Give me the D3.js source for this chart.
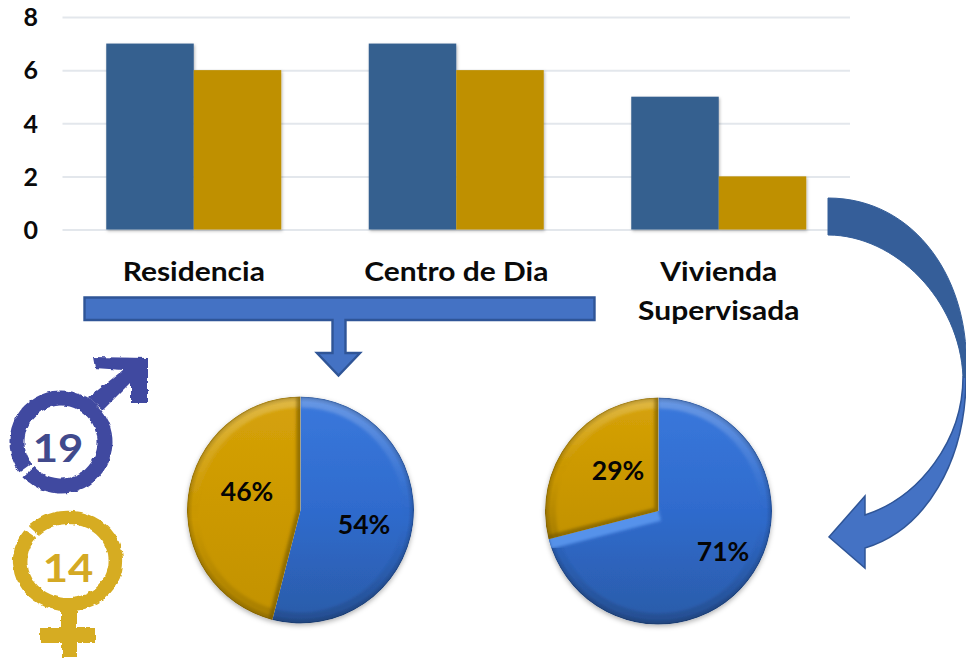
<!DOCTYPE html>
<html><head><meta charset="utf-8">
<script src="https://cdnjs.cloudflare.com/ajax/libs/d3/7.8.5/d3.min.js"></script>
<style>html,body{margin:0;padding:0;background:#fff;overflow:hidden}svg{display:block}text{font-family:Lato,"Open Sans",sans-serif;font-weight:700}</style>
</head><body><svg id="c" width="966" height="662"></svg>
<script>
const categories = [["Residencia"], ["Centro de Dia"], ["Vivienda", "Supervisada"]];
const seriesMen = [7, 7, 5];
const seriesWomen = [6, 6, 2];
const yTicks = [0, 2, 4, 6, 8];
const pieLeftValues = [54, 46];
const pieRightValues = [71, 29];
const maleCount = 19;
const femaleCount = 14;

const svg = d3.select("#c");
const defs = svg.append("defs");
const BLUE_BAR = "#35608f", GOLD_BAR = "#bf9000";
const STRETCH = 1.09;

/* ---------- filters ---------- */
const shadow = defs.append("filter").attr("id","barShadow").attr("x","-10%").attr("y","-10%").attr("width","120%").attr("height","120%");
shadow.append("feDropShadow").attr("dx",1).attr("dy",1.5).attr("stdDeviation",1.5).attr("flood-color","#000").attr("flood-opacity",.28);
const pieShadow = defs.append("filter").attr("id","pieShadow").attr("x","-10%").attr("y","-10%").attr("width","120%").attr("height","120%");
pieShadow.append("feDropShadow").attr("dx",0).attr("dy",2).attr("stdDeviation",2.5).attr("flood-color","#000").attr("flood-opacity",.3);
const soft = defs.append("filter").attr("id","soft").attr("x","-30%").attr("y","-30%").attr("width","160%").attr("height","160%");
soft.append("feGaussianBlur").attr("stdDeviation",1.6);
const rough = defs.append("filter").attr("id","rough").attr("x","-10%").attr("y","-10%").attr("width","120%").attr("height","120%");
rough.append("feTurbulence").attr("type","fractalNoise").attr("baseFrequency",.16).attr("numOctaves",2).attr("seed",4).attr("result","n");
rough.append("feDisplacementMap").attr("in","SourceGraphic").attr("in2","n").attr("scale",4).attr("xChannelSelector","R").attr("yChannelSelector","G").attr("result","d");
rough.append("feGaussianBlur").attr("in","d").attr("stdDeviation",.55);

/* ---------- bar chart ---------- */
const x0 = d3.scaleBand().domain(d3.range(categories.length)).range([62.5, 850]).paddingInner(1/3).paddingOuter(1/6);
const x1 = d3.scaleBand().domain([0,1]).range([0, x0.bandwidth()]);
const y = d3.scaleLinear().domain([0, 8]).range([229.5, 17]);

const yAxis = d3.axisLeft(y).tickValues(yTicks).tickSize(-(850-62.5)).tickPadding(0).tickFormat(d3.format("d"));
const gy = svg.append("g").attr("transform","translate(62.5,0)").call(yAxis);
gy.select(".domain").remove();
gy.selectAll(".tick line").attr("stroke","#e3e7ec").attr("stroke-width",2);
gy.selectAll(".tick text").attr("font-size",25).attr("fill","#0a0a0a").attr("dy",".35em")
  .attr("x",0).attr("transform","translate(-24.5,0)");

const groups = svg.append("g").selectAll("g").data(categories).join("g")
  .attr("transform",(d,i)=>`translate(${x0(i)},0)`).attr("filter","url(#barShadow)");
groups.each(function(d,i){
  const vals=[seriesMen[i],seriesWomen[i]];
  d3.select(this).selectAll("rect").data(vals).join("rect")
    .attr("x",(v,j)=>x1(j)).attr("width",x1.bandwidth())
    .attr("y",v=>y(v)).attr("height",v=>y(0)-y(v))
    .attr("fill",(v,j)=>j?GOLD_BAR:BLUE_BAR);
});
const lineGap = 39.5;
svg.append("g").selectAll("text").data(categories).join("text")
  .attr("text-anchor","middle").attr("font-size",27.5).attr("fill","#0a0a0a")
  .attr("transform",(d,i)=>`translate(${x0(i)+x0.bandwidth()/2},281) scale(${STRETCH},1)`)
  .selectAll("tspan").data(d=>d).join("tspan")
  .attr("x",0).attr("y",(d,i)=>i*lineGap).text(d=>d);

/* ---------- connector arrows ---------- */
const ARW="#4472c4", ARW_EDGE="#2f5597", ARW_DARK="#355e99";
function poly(pts){const p=d3.path();pts.forEach((q,i)=>i?p.lineTo(q[0],q[1]):p.moveTo(q[0],q[1]));p.closePath();return p.toString();}
svg.append("path").attr("d",poly([[84.5,297.5],[594.5,297.5],[594.5,320],[345.5,320],[345.5,353],[360,353],[338.5,375.5],[317,353],[332.5,353],[332.5,320],[84.5,320]]))
  .attr("fill",ARW).attr("stroke",ARW_EDGE).attr("stroke-width",2.4);

const lower=d3.path();
lower.moveTo(966,377);
lower.bezierCurveTo(966,462,925,530,865,548);
lower.lineTo(865,568); lower.lineTo(829,537); lower.lineTo(865,496); lower.lineTo(865,515);
lower.bezierCurveTo(920,497,963,440,963,377);
lower.closePath();
svg.append("path").attr("d",lower.toString()).attr("fill",ARW).attr("stroke",ARW_EDGE).attr("stroke-width",1.5);
const upper=d3.path();
upper.moveTo(828,198);
upper.bezierCurveTo(915,198,972,280,966,377);
upper.lineTo(963,377);
upper.bezierCurveTo(960,300,895,235,828,235);
upper.closePath();
svg.append("path").attr("d",upper.toString()).attr("fill",ARW_DARK).attr("stroke",ARW_DARK).attr("stroke-width",1);

/* ---------- pies ---------- */
const palette=[
  {top:"#3a78dc",mid:"#2f6bcd",bot:"#2b5ba8"},
  {top:"#d6a20a",mid:"#cc9900",bot:"#c29200"}];
palette.forEach((c,i)=>{
  const g=defs.append("linearGradient").attr("id","sl"+i).attr("x1",0).attr("y1",0).attr("x2",0).attr("y2",1);
  g.append("stop").attr("offset",0).attr("stop-color",c.top);
  g.append("stop").attr("offset",.5).attr("stop-color",c.mid);
  g.append("stop").attr("offset",1).attr("stop-color",c.bot);
});
const rimG=defs.append("linearGradient").attr("id","rimLight").attr("x1",0).attr("y1",0).attr("x2",0).attr("y2",1);
[[0,"#fff",.24],[.35,"#fff",.05],[.55,"#000",0],[1,"#000",.14]].forEach(s=>rimG.append("stop").attr("offset",s[0]).attr("stop-color",s[1]).attr("stop-opacity",s[2]));
const edgeG=defs.append("radialGradient").attr("id","rimDark").attr("cx",.5).attr("cy",.5).attr("r",.5);
[[0,0],[.95,0],[.985,.13],[1,.34]].forEach(s=>edgeG.append("stop").attr("offset",s[0]).attr("stop-color","#000").attr("stop-opacity",s[1]));

const pieGen=d3.pie().sort(null).startAngle(0).endAngle(2*Math.PI);
const R=113.5;
const arcGen=d3.arc().innerRadius(0).outerRadius(R);
const ringGen=d3.arc().innerRadius(R-11).outerRadius(R);

function drawPie(id,cx,cy,values,labels,lightEdge){
  const g=svg.append("g").attr("transform",`translate(${cx},${cy})`).attr("filter","url(#pieShadow)");
  pieGen(values).forEach((a,i)=>{
    const clipId=`${id}c${i}`;
    defs.append("clipPath").attr("id",clipId).append("path").attr("d",arcGen(a));
    const s=g.append("g").attr("clip-path",`url(#${clipId})`);
    s.append("path").attr("d",arcGen(a)).attr("fill",`url(#sl${i})`);
    s.append("path").attr("d",ringGen(a)).attr("fill","url(#rimLight)").attr("filter","url(#soft)");
    s.append("circle").attr("r",R).attr("fill","url(#rimDark)");
    const p0=d3.pointRadial(a.startAngle,R), p1=d3.pointRadial(a.endAngle,R);
    if(i===1){
      s.append("path").attr("d",d3.line()([p0,[0,0],p1])).attr("fill","none")
        .attr("stroke","#6d5200").attr("stroke-opacity",.6).attr("stroke-width",8).attr("filter","url(#soft)");
    } else {
      s.append("line").attr("x1",0).attr("y1",0).attr("x2",p0[0]).attr("y2",p0[1])
        .attr("stroke","#6fa6f5").attr("stroke-opacity",.35).attr("stroke-width",8).attr("filter","url(#soft)");
      if(lightEdge){
        s.append("line").attr("x1",0).attr("y1",0).attr("x2",p1[0]).attr("y2",p1[1])
          .attr("stroke","#5b97ee").attr("stroke-opacity",.9).attr("stroke-width",20).attr("filter","url(#soft)");
      }
    }
  });
  svg.append("g").selectAll("text").data(values).join("text")
    .attr("transform",(d,i)=>`translate(${labels[i][0]},${labels[i][1]+9.5})`)
    .attr("text-anchor","middle").attr("font-size",26.5).attr("fill","#050505")
    .text(d=>d+"%");
}
drawPie("pL",300.5,510,pieLeftValues,[[364,524],[247,491]],false);
drawPie("pR",658.5,511,pieRightValues,[[723,551],[618,470]],true);

/* ---------- gender symbols ---------- */
const MALE="#4149a0", FEMALE="#d6ac22";
const ringArc=d3.arc().innerRadius(36.5).outerRadius(51.5);
const male=svg.append("g").attr("filter","url(#rough)");
male.append("path").attr("transform","translate(61,442)")
  .attr("d",ringArc({startAngle:-Math.PI*0.7,endAngle:Math.PI*1.26})).attr("fill",MALE);
male.append("path").attr("d",poly([[88,398],[123,370],[95,368],[93,357],[148,358],[148,403],[131,403],[131,382],[103,410]])).attr("fill",MALE);
const female=svg.append("g").attr("filter","url(#rough)");
const ringArcF=d3.arc().innerRadius(39).outerRadius(53);
female.append("path").attr("transform","translate(68,561) scale(1.04,.95)")
  .attr("d",ringArcF({startAngle:-Math.PI*0.25,endAngle:Math.PI*1.71})).attr("fill",FEMALE);
female.append("path").attr("d",poly([[61,608],[77,608],[77,628],[95,628],[95,643],[77,643],[77,657],[62,657],[62,643],[40,643],[40,628],[61,628]])).attr("fill",FEMALE);
svg.append("text").attr("transform","translate(58,462) scale(1.12,1)").attr("text-anchor","middle").attr("font-size",39).attr("fill","#414a8c").text(maleCount);
svg.append("text").attr("transform","translate(68,582) scale(1.12,1)").attr("text-anchor","middle").attr("font-size",39).attr("fill","#d4a924").text(femaleCount);
</script></body></html>
